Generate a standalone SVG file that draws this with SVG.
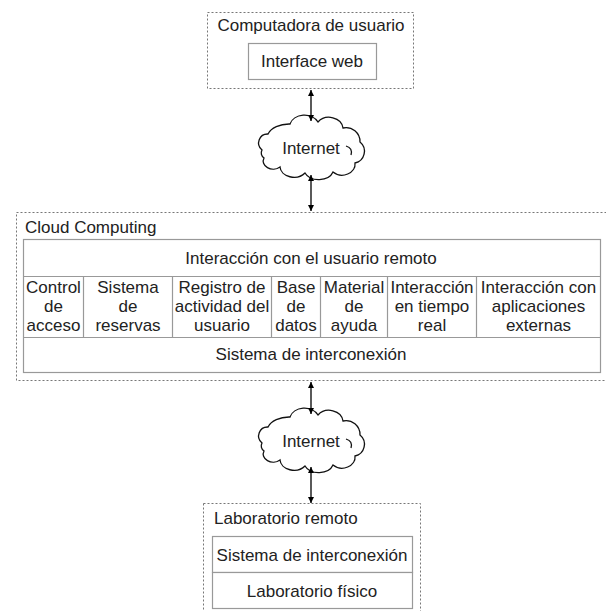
<svg xmlns="http://www.w3.org/2000/svg" width="606" height="611" viewBox="0 0 606 611">
<defs>
<style>
.t{font-family:"Liberation Sans",Arial,sans-serif;font-size:17px;fill:#222;}
.c{text-anchor:middle;}
.dash{fill:none;stroke:#777;stroke-width:1;stroke-dasharray:2,2;}
.box{fill:#fff;stroke:#999;stroke-width:1.2;}
.ln{stroke:#999;stroke-width:1.2;}
.cloud{fill:#fff;stroke:#111;stroke-width:1.3;}
.conn{stroke:#000;stroke-width:1.3;fill:none;marker-start:url(#ah);marker-end:url(#ah);}
</style>
<marker id="ah" viewBox="0 0 10 10" refX="10" refY="5" markerWidth="6" markerHeight="10" markerUnits="userSpaceOnUse" orient="auto-start-reverse">
<path d="M0,0 L10,5 L0,10 Z" fill="#000"/>
</marker>
</defs>
<rect width="606" height="611" fill="#fff"/>

<g id="computadora">
<rect class="dash" x="207.5" y="12.5" width="206" height="76"/>
<text class="t c" x="311" y="31">Computadora de usuario</text>
</g>
<g id="interface-web">
<rect class="box" x="248.5" y="43.5" width="128" height="36"/>
<text class="t c" x="312" y="67">Interface web</text>
</g>

<g id="internet1">
<path class="cloud" d="M262,150 A9,9 0 0 1 268,134 A22,14 0 0 1 290,124 A15,12 0 0 1 318,122 A14,12 0 0 1 343,128 A14,14 0 0 1 360,142 A12,12 0 0 1 355,163 A13,11 0 0 1 333,172 A15,11 0 0 1 305,173 A14,11 0 0 1 280,167 A10,8 0 0 1 264,158 A6,6 0 0 1 262,150 Z"/>
<path fill="none" stroke="#111" stroke-width="1.3" d="M346,146 Q353,148 351,155"/>
<text class="t c" x="311" y="154">Internet</text>
</g>

<g id="cloud-computing">
<rect class="dash" x="16.5" y="212.5" width="600" height="168"/>
<text class="t" x="25" y="233">Cloud Computing</text>
</g>
<g id="tabla">
<rect class="box" x="23.5" y="239.5" width="577" height="133"/>
<line class="ln" x1="23.5" y1="276.5" x2="600.5" y2="276.5"/>
<line class="ln" x1="23.5" y1="337.5" x2="600.5" y2="337.5"/>
<line class="ln" x1="83.5" y1="276.5" x2="83.5" y2="337.5"/>
<line class="ln" x1="172.5" y1="276.5" x2="172.5" y2="337.5"/>
<line class="ln" x1="271.5" y1="276.5" x2="271.5" y2="337.5"/>
<line class="ln" x1="320.5" y1="276.5" x2="320.5" y2="337.5"/>
<line class="ln" x1="387.5" y1="276.5" x2="387.5" y2="337.5"/>
<line class="ln" x1="476.5" y1="276.5" x2="476.5" y2="337.5"/>
<text class="t c" x="311" y="264">Interacción con el usuario remoto</text>
<text class="t c" x="53.5" y="293">Control</text><text class="t c" x="53.5" y="312">de</text><text class="t c" x="53.5" y="331">acceso</text>
<text class="t c" x="128" y="293">Sistema</text><text class="t c" x="128" y="312">de</text><text class="t c" x="128" y="331">reservas</text>
<text class="t c" x="222" y="293">Registro de</text><text class="t c" x="222" y="312">actividad del</text><text class="t c" x="222" y="331">usuario</text>
<text class="t c" x="296" y="293">Base</text><text class="t c" x="296" y="312">de</text><text class="t c" x="296" y="331">datos</text>
<text class="t c" x="354" y="293">Material</text><text class="t c" x="354" y="312">de</text><text class="t c" x="354" y="331">ayuda</text>
<text class="t c" x="432" y="293">Interacción</text><text class="t c" x="432" y="312">en tiempo</text><text class="t c" x="432" y="331">real</text>
<text class="t c" x="538.5" y="293">Interacción con</text><text class="t c" x="538.5" y="312">aplicaciones</text><text class="t c" x="538.5" y="331">externas</text>
<text class="t c" x="311" y="360">Sistema de interconexión</text>
</g>

<g id="internet2">
<path class="cloud" transform="translate(0,293)" d="M262,150 A9,9 0 0 1 268,134 A22,14 0 0 1 290,124 A15,12 0 0 1 318,122 A14,12 0 0 1 343,128 A14,14 0 0 1 360,142 A12,12 0 0 1 355,163 A13,11 0 0 1 333,172 A15,11 0 0 1 305,173 A14,11 0 0 1 280,167 A10,8 0 0 1 264,158 A6,6 0 0 1 262,150 Z"/>
<path fill="none" stroke="#111" stroke-width="1.3" transform="translate(0,293)" d="M346,146 Q353,148 351,155"/>
<text class="t c" x="311" y="447">Internet</text>
</g>

<g id="laboratorio-remoto">
<rect class="dash" x="203.5" y="503.5" width="217" height="120"/>
<text class="t" x="214" y="524">Laboratorio remoto</text>
</g>
<g id="sistema-interconexion-lab">
<rect class="box" x="212.5" y="536.5" width="200" height="36"/>
<text class="t c" x="312" y="561">Sistema de interconexión</text>
</g>
<g id="laboratorio-fisico">
<rect class="box" x="212.5" y="572.5" width="200" height="36"/>
<text class="t c" x="312" y="597">Laboratorio físico</text>
</g>

<g id="connectors">
<line class="conn" x1="311" y1="90" x2="311" y2="121"/>
<line class="conn" x1="311" y1="175" x2="311" y2="211"/>
<line class="conn" x1="311" y1="382" x2="311" y2="414"/>
<line class="conn" x1="311" y1="467" x2="311" y2="503"/>
</g>
</svg>
